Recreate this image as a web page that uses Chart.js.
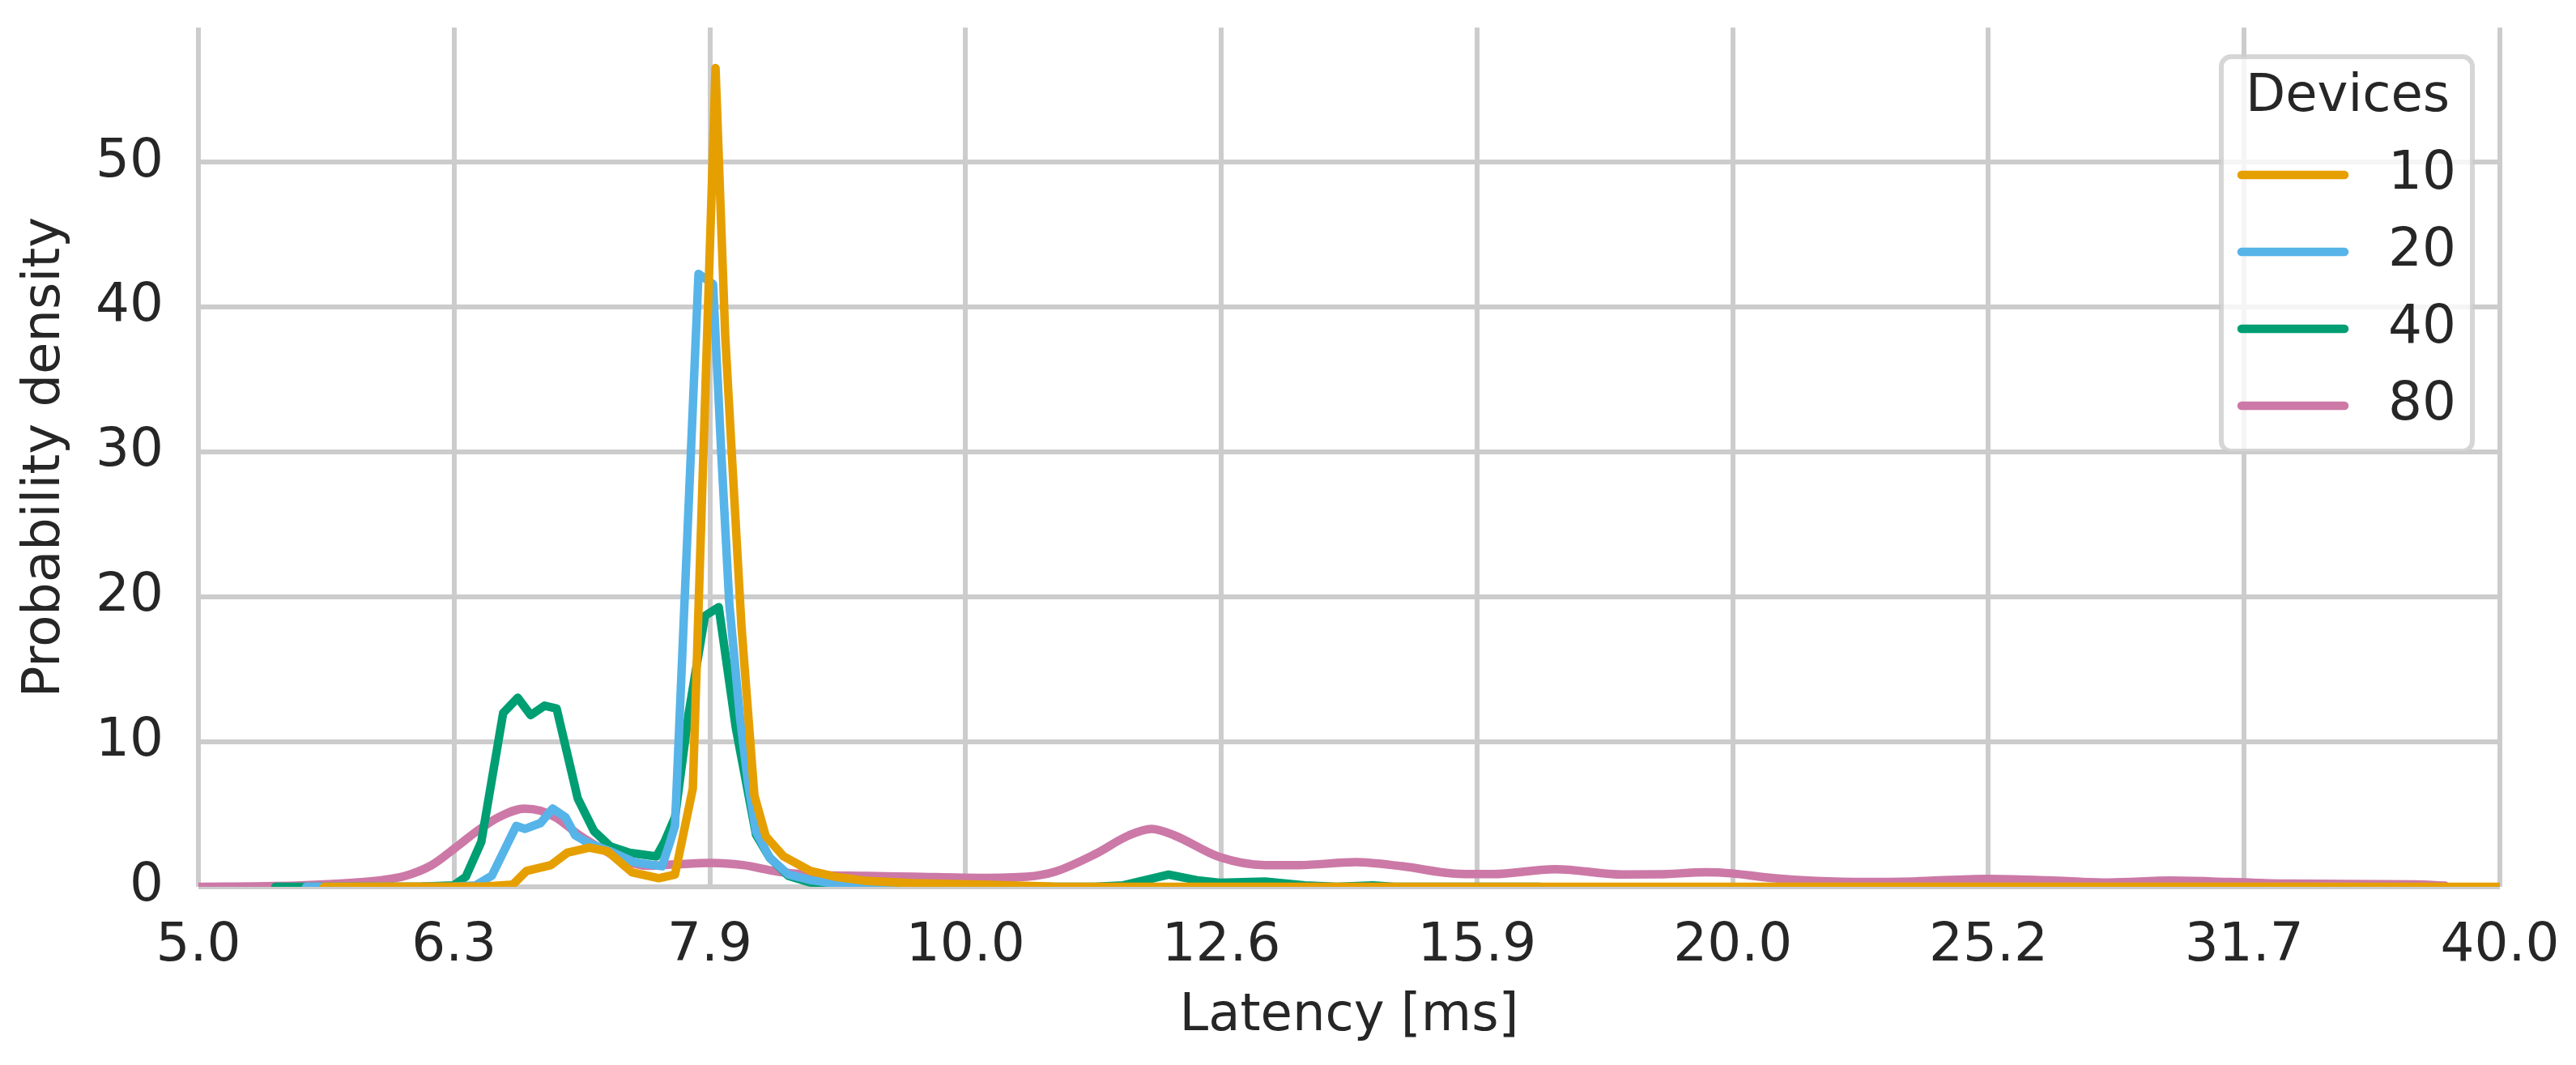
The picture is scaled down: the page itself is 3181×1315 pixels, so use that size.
<!DOCTYPE html>
<html>
<head>
<meta charset="utf-8">
<script src="https://cdn.jsdelivr.net/npm/chart.js@4.4.1/dist/chart.umd.min.js"></script>
<style>
  html, body { margin: 0; padding: 0; background: #fff; }
  canvas { display: block; }
</style>
</head>
<body>
<canvas id="kde-chart" width="3181" height="1315"></canvas>
<script>
// Axis ticks (log2 spaced, thirds of an octave)
const xTickValues = [5, 6.2996, 7.9370, 10, 12.5992, 15.8740, 20, 25.1984, 31.7480, 40];
const xTickLabels = ['5.0', '6.3', '7.9', '10.0', '12.6', '15.9', '20.0', '25.2', '31.7', '40.0'];
const yTickValues = [0, 10, 20, 30, 40, 50];

const devices = ['10', '20', '40', '80'];

// 10 devices
const lat10 = [5.601, 6.485, 6.643, 6.726, 6.876, 6.977, 7.117, 7.237, 7.398, 7.579, 7.691, 7.816, 7.978, 8.048, 8.167, 8.263, 8.348, 8.484, 8.692, 8.885, 9.149, 9.532, 10.137, 10.827, 40.0];
const dens10 = [0, 0.03, 0.15, 1.1, 1.5, 2.35, 2.7, 2.45, 1.0, 0.6, 0.85, 6.8, 56.5, 38, 18, 6.3, 3.5, 2.1, 1.1, 0.7, 0.4, 0.25, 0.15, 0.02, 0];

// 20 devices
const lat20 = [5.512, 6.297, 6.423, 6.518, 6.663, 6.717, 6.811, 6.886, 6.967, 7.028, 7.117, 7.253, 7.414, 7.601, 7.657, 7.691, 7.856, 7.960, 8.019, 8.078, 8.155, 8.215, 8.275, 8.379, 8.521, 8.692, 9.016, 9.352];
const dens20 = [0, 0.02, 0.1, 0.77, 4.2, 4.0, 4.4, 5.4, 4.8, 3.55, 3.0, 2.45, 1.7, 1.42, 3.1, 4.2, 42.3, 41.6, 30, 19.5, 11.8, 7.2, 3.8, 2.0, 0.85, 0.47, 0.05, 0];

// 40 devices
const lat40 = [5.360, 6.116, 6.297, 6.367, 6.456, 6.585, 6.672, 6.751, 6.836, 6.911, 7.044, 7.148, 7.253, 7.382, 7.563, 7.618, 7.691, 7.787, 7.902, 8.001, 8.125, 8.275, 8.379, 8.521, 8.692, 9.016, 9.352, 11.231, 11.531, 12.014, 12.326, 12.581, 13.108, 13.586, 13.990, 14.449, 14.726, 16.801];
const dens40 = [0, 0.02, 0.1, 0.7, 3.1, 12.0, 13.05, 11.85, 12.5, 12.3, 6.1, 3.85, 2.8, 2.35, 2.1, 3.1, 4.8, 12.0, 18.7, 19.3, 11.0, 3.6, 2.0, 0.75, 0.3, 0.05, 0, 0, 0.1, 0.84, 0.45, 0.28, 0.37, 0.1, 0, 0.1, 0, 0];

// 80 devices
const lat80 = [5.0, 5.360, 5.642, 5.896, 6.027, 6.174, 6.307, 6.437, 6.566, 6.712, 6.811, 6.911, 7.044, 7.185, 7.328, 7.507, 7.691, 7.943, 8.179, 8.441, 8.692, 9.149, 9.532, 10.137, 10.569, 10.843, 11.239, 11.590, 11.830, 12.076, 12.581, 13.108, 13.517, 14.228, 14.835, 15.615, 16.102, 17.036, 18.117, 18.683, 19.523, 19.971, 20.746, 21.567, 22.536, 23.548, 25.171, 26.593, 28.094, 29.702, 31.379, 33.151, 37.028, 38.073];
const dens80 = [0.0, 0.05, 0.2, 0.45, 0.75, 1.5, 2.7, 3.9, 4.85, 5.4, 5.25, 4.75, 3.65, 2.7, 1.9, 1.45, 1.55, 1.65, 1.5, 1.05, 0.84, 0.75, 0.7, 0.62, 0.7, 1.05, 2.25, 3.55, 4.0, 3.55, 2.05, 1.5, 1.5, 1.7, 1.42, 0.9, 0.88, 1.22, 0.85, 0.86, 1.0, 0.93, 0.6, 0.41, 0.33, 0.37, 0.55, 0.45, 0.3, 0.43, 0.33, 0.22, 0.17, 0.08];

const colors = ['#E69F00', '#56B4E9', '#009E73', '#CC79A7'];
const seriesX = [lat10, lat20, lat40, lat80];
const seriesY = [dens10, dens20, dens40, dens80];

const textColor = '#262626';
const gridColor = '#cccccc';
const fontFamily = "'DejaVu Sans', sans-serif";
Chart.defaults.font.family = fontFamily;
Chart.defaults.color = textColor;

const lineWidth = 10.5;

const datasets = devices.map((d, i) => ({
  label: d,
  data: seriesX[i].map((x, j) => ({ x: x, y: seriesY[i][j] })),
  borderColor: colors[i],
  backgroundColor: colors[i],
  borderWidth: lineWidth,
  pointRadius: 0,
  borderJoinStyle: 'round',
  borderCapStyle: 'round',
  tension: 0,
  cubicInterpolationMode: d === '80' ? 'monotone' : 'default',
  clip: 0,
  fill: false
}));

// Legend drawn by hand: title, line samples, right-aligned labels
const legendBox = {
  id: 'legendBox',
  afterDraw(chart) {
    const ctx = chart.ctx;
    const area = chart.chartArea;
    const right = area.right - 34;
    const top = area.top + 36;
    const w = 310, h = 487;
    const left = right - w;
    ctx.save();
    ctx.beginPath();
    ctx.roundRect(left, top, w, h, 12);
    ctx.fillStyle = 'rgba(255,255,255,0.8)';
    ctx.fill();
    ctx.lineWidth = 6;
    ctx.strokeStyle = 'rgba(204,204,204,0.8)';
    ctx.stroke();

    ctx.fillStyle = textColor;
    ctx.textBaseline = 'middle';
    ctx.textAlign = 'center';
    ctx.font = '64px ' + fontFamily;
    ctx.fillText('Devices', left + 156, top + 50);

    ctx.textAlign = 'right';
    ctx.font = '66px ' + fontFamily;
    devices.forEach((d, i) => {
      const y = top + 146 + i * 95;
      ctx.beginPath();
      ctx.moveTo(left + 25, y);
      ctx.lineTo(left + 152, y);
      ctx.lineWidth = lineWidth;
      ctx.lineCap = 'round';
      ctx.strokeStyle = colors[i];
      ctx.stroke();
      ctx.fillText(d, left + 290, y);
    });
    ctx.restore();
  }
};

new Chart(document.getElementById('kde-chart'), {
  type: 'line',
  data: { datasets: datasets },
  options: {
    responsive: false,
    animation: false,
    devicePixelRatio: 1,
    layout: { padding: { top: 34, right: 94, left: 0, bottom: 0 } },
    plugins: {
      legend: { display: false },
      tooltip: { enabled: false }
    },
    scales: {
      x: {
        type: 'logarithmic',
        position: 'bottom',
        min: 5,
        max: 40,
        bounds: 'data',
        afterBuildTicks: (axis) => { axis.ticks = xTickValues.map(v => ({ value: v })); },
        afterFit: (axis) => {
          axis.height = 220;
          axis.paddingLeft = 0;
          axis.paddingRight = 0;
        },
        ticks: {
          autoSkip: false,
          maxRotation: 0,
          padding: 34,
          font: { size: 66 },
          color: textColor,
          callback: (value, index) => xTickLabels[index]
        },
        grid: { color: gridColor, lineWidth: 6, drawTicks: false },
        border: { display: false },
        title: {
          display: true,
          text: 'Latency [ms]',
          font: { size: 64 },
          color: textColor,
          padding: { top: 0, bottom: 21 }
        }
      },
      y: {
        type: 'linear',
        min: 0,
        max: 59.3,
        bounds: 'data',
        afterBuildTicks: (axis) => { axis.ticks = yTickValues.map(v => ({ value: v })); },
        afterFit: (axis) => {
          axis.width = 245;
          axis.paddingTop = 0;
          axis.paddingBottom = 0;
        },
        ticks: {
          padding: 43,
          font: { size: 66 },
          color: textColor
        },
        grid: { color: gridColor, lineWidth: 6, drawTicks: false },
        border: { display: false },
        title: {
          display: true,
          text: 'Probability density',
          font: { size: 64 },
          color: textColor,
          padding: { top: 18, bottom: 0 }
        }
      }
    }
  },
  plugins: [legendBox]
});
</script>
</body>
</html>
